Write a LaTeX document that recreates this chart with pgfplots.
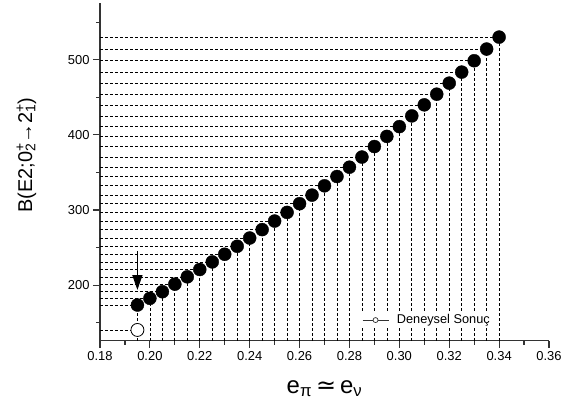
\documentclass[border=0pt]{standalone}
\usepackage{pgfplots}
\pgfplotsset{compat=1.18}
\usepackage{pgfplotstable}
\usepackage{fontspec}
\setmainfont{Liberation Sans}
\newfontfamily\dejavu{DejaVu Sans}
\usetikzlibrary{arrows.meta}
\newcommand\supsub[2]{\rlap{\textsuperscript{#1}}\textsubscript{#2}}

\pgfplotstableread{
x y
0.195 173.5
0.200 182.4
0.205 191.2
0.210 201.3
0.215 211.0
0.220 220.8
0.225 230.9
0.230 241.1
0.235 251.7
0.240 262.7
0.245 273.9
0.250 285.3
0.255 296.8
0.260 308.4
0.265 319.8
0.270 332.2
0.275 344.6
0.280 357.0
0.285 370.5
0.290 384.5
0.295 398.0
0.300 411.0
0.305 425.3
0.310 440.0
0.315 454.2
0.320 468.9
0.325 483.6
0.330 498.7
0.335 514.3
0.340 530.2
}\calc

\pgfplotstableread{
x y
0.195 140.3
}\expt

\begin{document}
\begin{tikzpicture}
\path[use as bounding box] (-100bp,-68.3bp) rectangle (486bp,340.7bp);
\begin{axis}[
  scale only axis, width=449bp, height=338bp,
  xmin=0.18, xmax=0.36, ymin=126, ymax=576,
  axis x line*=bottom, axis y line*=left,
  axis line style={-, line width=1.2bp, black!80},
  xtick={0.18,0.20,0.22,0.24,0.26,0.28,0.30,0.32,0.34,0.36},
  minor xtick={0.19,0.21,0.23,0.25,0.27,0.29,0.31,0.33,0.35},
  ytick={200,300,400,500}, minor ytick={150,250,350,450,550},
  tick align=outside, major tick length=7bp, minor tick length=4bp,
  tick style={line width=1.2bp, black!80},
  scaled x ticks=false,
  xticklabel style={/pgf/number format/fixed, /pgf/number format/fixed zerofill, /pgf/number format/precision=2},
  /pgf/number format/assume math mode=true,
  ticklabel style={font=\fontsize{13}{15}\selectfont},
  xlabel={e\textsubscript{π}\,{\dejavu ≃}\,e\textsubscript{ν}},
  xlabel style={font=\fontsize{24}{28}\selectfont, at={(axis description cs:0.5,-0.155)}, anchor=base},
  ylabel={B(E2;0\supsub{+}{2}→2\supsub{+}{1})},
  ylabel style={font=\fontsize{20}{24}\selectfont, at={(axis description cs:-0.151,0.549)}, anchor=base},
  legend style={draw=none, fill=white, at={(axis description cs:0.5835,0.061)}, anchor=west, inner sep=0pt,
    nodes={inner sep=2pt}, font=\fontsize{12.8}{14}\selectfont,
    /tikz/every odd column/.append style={column sep=6bp}},
  legend image code/.code={\draw[mark repeat=2,mark phase=2,#1] plot coordinates {(0bp,0bp) (13bp,0bp) (26bp,0bp)};},
]
\addplot[forget plot, ycomb, black, line width=0.7bp, dash pattern=on 3bp off 2bp] table[x=x,y=y] {\calc};
\addplot[forget plot, xcomb, black, line width=0.7bp, dash pattern=on 3bp off 2bp] table[x=x,y=y] {\calc};
\addplot[forget plot, xcomb, black, line width=0.7bp, dash pattern=on 3bp off 2bp] table[x=x,y=y] {\expt};
\addplot[forget plot, only marks, mark=*, mark size=6.5bp, black] table[x=x,y=y] {\calc};
\addplot[forget plot, only marks, mark=*, mark size=6.5bp, mark options={fill=white, draw=black, line width=0.8bp}] table[x=x,y=y] {\expt};
\addplot[forget plot, black, line width=1.6bp, -{Triangle[length=15bp,width=10bp]}] coordinates {(0.195,245) (0.195,193.5)};
\addlegendimage{black!80, line width=0.7bp, mark=*, mark size=2.5bp, mark options={solid, fill=white}}
\addlegendentry{Deneysel Sonuç}
\end{axis}
\end{tikzpicture}
\end{document}
